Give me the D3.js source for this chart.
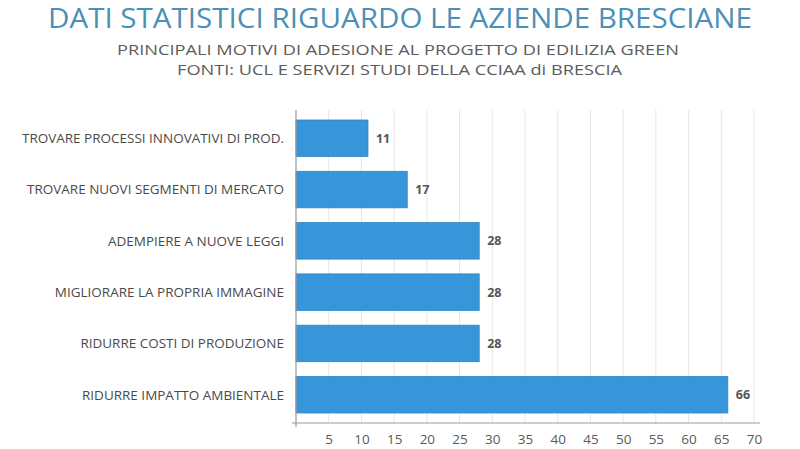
<!DOCTYPE html>
<html><head><meta charset="utf-8">
<script src="https://cdn.jsdelivr.net/npm/d3@7"></script>
<style>body{margin:0;background:#fff}svg{display:block}text{font-family:"Open Sans",sans-serif}</style>
</head><body>
<svg id="c" width="800" height="449"></svg>
<script>
const categories = [
  "TROVARE PROCESSI INNOVATIVI DI PROD.",
  "TROVARE NUOVI SEGMENTI DI MERCATO",
  "ADEMPIERE A NUOVE LEGGI",
  "MIGLIORARE LA PROPRIA IMMAGINE",
  "RIDURRE COSTI DI PRODUZIONE",
  "RIDURRE IMPATTO AMBIENTALE"
];
const values = [11, 17, 28, 28, 28, 66];
const tickValues = [5,10,15,20,25,30,35,40,45,50,55,60,65,70];
const title = "DATI STATISTICI RIGUARDO LE AZIENDE BRESCIANE";
const subtitle = ["PRINCIPALI MOTIVI DI ADESIONE AL PROGETTO DI EDILIZIA GREEN",
                  "FONTI: UCL E SERVIZI STUDI DELLA CCIAA di BRESCIA"];

const svg = d3.select("#c");
svg.append("text").attr("x",400).attr("y",28).attr("text-anchor","middle")
  .attr("font-size",27).attr("font-weight",400).attr("fill","#4a90b8")
  .attr("textLength",704).attr("lengthAdjust","spacingAndGlyphs").text(title);
const subLens = [562, 445], subX = [398, 399.5], subY = [55, 74.5];
svg.append("g").selectAll("text").data(subtitle).join("text")
  .attr("text-anchor","middle").attr("font-size",13.9).attr("font-weight",400).attr("fill","#5c5c5c")
  .attr("x",(d,i)=>subX[i]).attr("y",(d,i)=>subY[i])
  .attr("textLength",(d,i)=>subLens[i]).attr("lengthAdjust","spacingAndGlyphs")
  .text(d=>d);

const x = d3.scaleLinear().domain([0,70]).range([296,754]);
const y = d3.scaleBand().domain(categories).range([110,423]).paddingInner(0.288).paddingOuter(0.195);

// gridlines
svg.append("g").selectAll("line").data(tickValues).join("line")
  .attr("x1",d=>x(d)).attr("x2",d=>x(d)).attr("y1",110).attr("y2",423)
  .attr("stroke","#e6e6e6").attr("stroke-width",1);

// bars
svg.append("g").selectAll("rect").data(values).join("rect")
  .attr("x",x(0)).attr("y",(d,i)=>y(categories[i]))
  .attr("width",d=>x(d)-x(0)).attr("height",y.bandwidth())
  .attr("fill","#3796da").attr("stroke","#2f86c6").attr("stroke-width",0.8);

// value labels
svg.append("g").selectAll("text").data(values).join("text")
  .attr("x",d=>x(d)+8).attr("y",(d,i)=>y(categories[i])+y.bandwidth()/2)
  .attr("dy","0.35em").attr("font-size",12.5).attr("font-weight",700).attr("fill","#555")
  .text(d=>d);

// category labels
const cl = svg.append("g").selectAll("text").data(categories).join("text")
  .attr("x",284).attr("y",d=>y(d)+y.bandwidth()/2).attr("dy","0.36em")
  .attr("text-anchor","end").attr("font-size",13.5).attr("fill","#4a4a4a").text(d=>d);
const w0 = cl.nodes()[0].getComputedTextLength();
const k = 262/w0;
cl.each(function(){
  const w = this.getComputedTextLength();
  d3.select(this).attr("textLength", w*k).attr("lengthAdjust","spacingAndGlyphs");
});

// axes lines
svg.append("line").attr("x1",296).attr("x2",296).attr("y1",110).attr("y2",427)
  .attr("stroke","#9a9a9a").attr("stroke-width",1.2);
const xAxis = d3.axisBottom(x).tickValues(tickValues).tickSize(0).tickPadding(11);
const ax = svg.append("g").attr("transform","translate(0,423)").call(xAxis);
ax.select(".domain").remove();
ax.selectAll("text").attr("font-size",13.5).attr("fill","#5a5a5a").attr("font-family","Open Sans");
svg.append("line").attr("x1",292).attr("x2",760).attr("y1",423).attr("y2",423)
  .attr("stroke","#9a9a9a").attr("stroke-width",1.2);
</script>
</body></html>
